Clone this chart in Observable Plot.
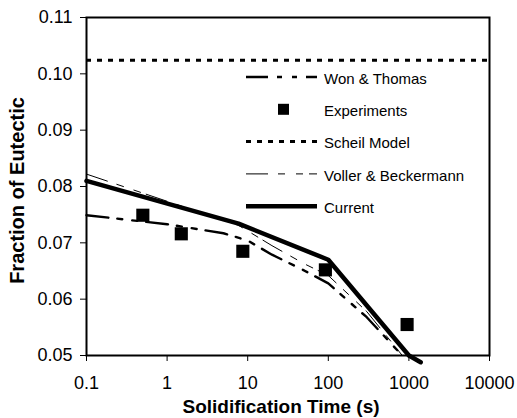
<!DOCTYPE html>
<html><head><meta charset="utf-8">
<script src="https://cdn.jsdelivr.net/npm/d3@7"></script>
<script src="https://cdn.jsdelivr.net/npm/@observablehq/plot@0.6"></script>
<style>
body{margin:0;background:#fff}
#chart{position:relative;width:517px;height:418px}
</style>
</head><body><div id="chart"></div>
<script>
// ---- data ----
const xTicks = [0.1, 1, 10, 100, 1000, 10000];
const yTicks = [0.05, 0.06, 0.07, 0.08, 0.09, 0.10, 0.11];

const wonX = [0.1, 1, 5, 10, 20, 50, 100, 300, 850];
const wonY = [0.0749, 0.0733, 0.0717, 0.0704, 0.0679, 0.0651, 0.0628, 0.0568, 0.0498];

const expX = [0.5, 1.5, 8.7, 92, 950];
const expY = [0.0749, 0.0716, 0.0685, 0.0652, 0.0555];

const scheilY = [0.1024];

const vbX = [0.1, 7.7, 20, 50, 100, 300, 850];
const vbY = [0.0822, 0.0731, 0.0695, 0.0663, 0.0642, 0.0578, 0.0498];

const curX = [0.1, 7.7, 100, 1000, 1400];
const curY = [0.0810, 0.0734, 0.0670, 0.0500, 0.0488];

const legendLabels = ["Won & Thomas", "Experiments", "Scheil Model", "Voller & Beckermann", "Current"];
const xTitle = "Solidification Time (s)";
const yTitle = "Fraction of Eutectic";

// ---- build tables ----
const won = wonX.map((x, i) => ({x, y: wonY[i]}));
const exp = expX.map((x, i) => ({x, y: expY[i]}));
const vb = vbX.map((x, i) => ({x, y: vbY[i]}));
const cur = curX.map((x, i) => ({x, y: curY[i]}));

const FONT = "'Liberation Sans', Arial, sans-serif";
const wonDash = "22,9,5,10,5,9";
const vbDash = "22,10,7,11,7,6";
const scheilDash = "5,6";

const chart = Plot.plot({
  width: 517,
  height: 418,
  marginLeft: 86,
  marginRight: 28,
  marginTop: 17,
  marginBottom: 63,
  style: {fontFamily: FONT, fontSize: "18px", background: "white", overflow: "visible", color: "black"},
  x: {type: "log", domain: [0.1, 10000], ticks: xTicks, tickFormat: d => String(+d.toPrecision(1)), label: null, tickSize: 6, tickPadding: 15},
  y: {domain: [0.05, 0.11], ticks: yTicks, tickFormat: d3.format(".2f"), label: null, tickSize: 6, tickPadding: 8},
  marks: [
    Plot.ruleY(scheilY, {stroke: "black", strokeWidth: 3, strokeDasharray: scheilDash}),
    Plot.line(won, {x: "x", y: "y", stroke: "black", strokeWidth: 2.4, strokeDasharray: wonDash}),
    Plot.line(vb, {x: "x", y: "y", stroke: "black", strokeWidth: 1, strokeDasharray: vbDash}),
    Plot.dot(exp, {x: "x", y: "y", symbol: "square", r: 7.4, fill: "black", stroke: "none"}),
    Plot.line(cur, {x: "x", y: "y", stroke: "black", strokeWidth: 4.5}),
    Plot.frame({stroke: "black", strokeWidth: 2}),
    Plot.text([xTitle], {frameAnchor: "bottom", lineAnchor: "middle", textAnchor: "middle", dx: -7, dy: 51, fontWeight: "bold", fontSize: 19, fill: "black"}),
    Plot.text([yTitle], {frameAnchor: "left", lineAnchor: "middle", textAnchor: "middle", rotate: -90, dx: -68.5, dy: 4, fontWeight: "bold", fontSize: 20, fill: "black"})
  ]
});

// ---- legend (inside plot area) ----
const svg = d3.select(chart);
const lg = svg.append("g").attr("class", "legend").attr("text-anchor", "start");
const lx0 = 246, lx1 = 317, ty = 77, step = 32.3, textX = 324;
legendLabels.forEach((lab, i) => {
  const yy = ty + i * step;
  if (i === 1) {
    lg.append("rect").attr("x", 283.5 - 5.5).attr("y", yy - 5.5).attr("width", 11).attr("height", 11).attr("fill", "black");
  } else {
    const st = [
      {w: 2.4, d: wonDash},
      null,
      {w: 3, d: scheilDash},
      {w: 1, d: vbDash},
      {w: 4.5, d: null}
    ][i];
    const ln = lg.append("line").attr("x1", lx0).attr("x2", lx1).attr("y1", yy).attr("y2", yy)
      .attr("stroke", "black").attr("stroke-width", st.w);
    if (st.d) ln.attr("stroke-dasharray", st.d);
  }
  lg.append("text").attr("x", textX).attr("y", yy + 2).attr("dy", "0.32em")
    .attr("text-anchor", "start")
    .attr("font-size", 15).attr("font-family", FONT).attr("fill", "black").text(lab);
});

document.getElementById("chart").appendChild(chart);
</script>
</body></html>
